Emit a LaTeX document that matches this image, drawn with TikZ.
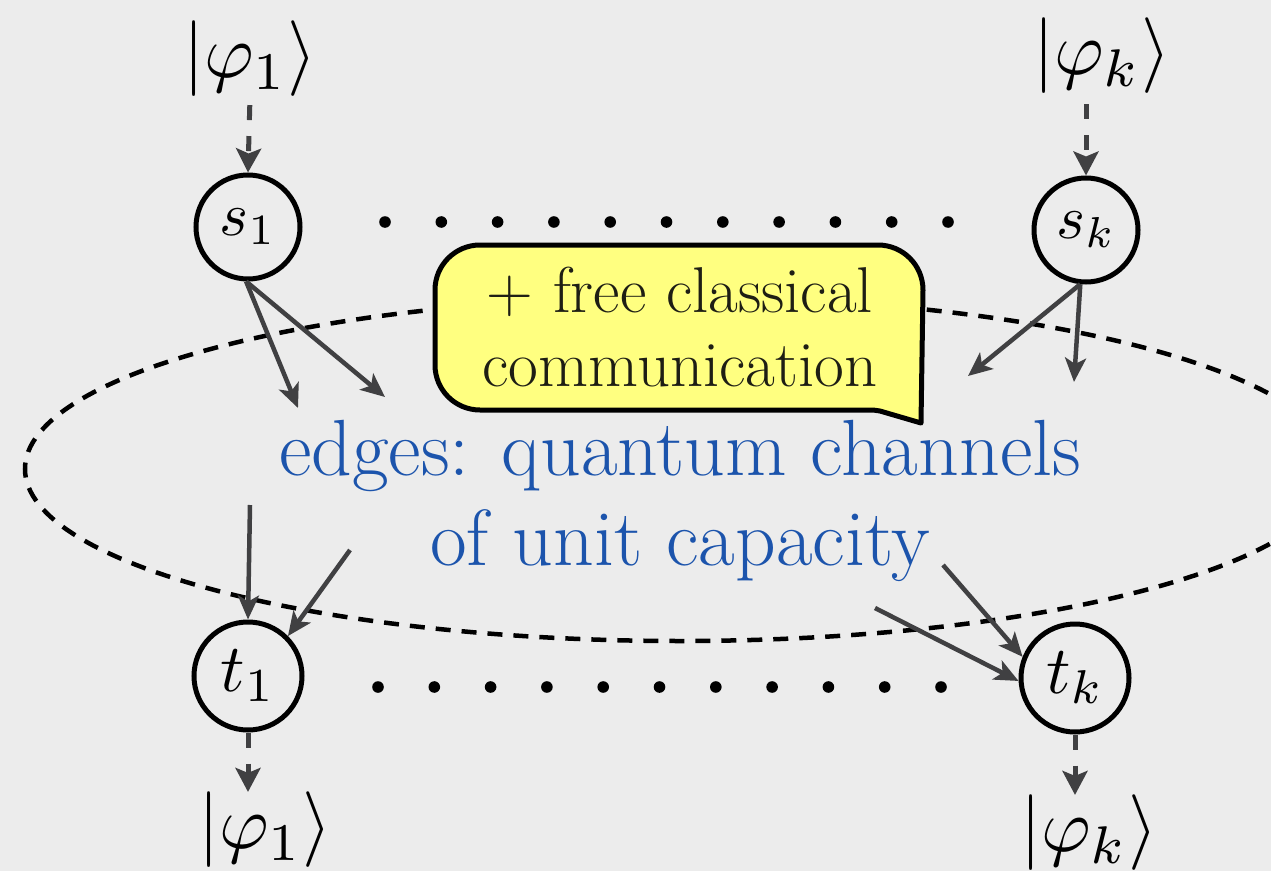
\documentclass[tikz,border=0pt]{standalone}
\usepackage{graphicx}
\usetikzlibrary{arrows.meta,calc}
\definecolor{bgcol}{RGB}{236,236,236}
\definecolor{arrcol}{RGB}{64,64,66}
\definecolor{bubcol}{RGB}{255,255,128}
\definecolor{bubtext}{RGB}{30,30,20}
\definecolor{txtblue}{RGB}{28,84,172}
\newcommand{\scaledmath}[2]{\scalebox{#1}{$#2$}}
\begin{document}
\begin{tikzpicture}[x=1bp,y=-1bp,
  snode/.style={circle,draw=black,line width=5bp,minimum size=104bp,inner sep=0pt},
  tnode/.style={circle,draw=black,line width=5bp,minimum size=108bp,inner sep=0pt},
  chan/.style={draw=arrcol,line width=4.5bp,-{Stealth[length=24bp,width=21bp,inset=6bp]}},
  ioarrow/.style={draw=arrcol,line width=5bp,dash pattern=on 15bp off 16bp,-{Stealth[length=24bp,width=25bp,inset=5bp]}},
  ketlabel/.style={inner sep=0pt},
  ellstyle/.style={draw=black,line width=4.5bp,dash pattern=on 15bp off 11bp},
  bubstyle/.style={draw=black,line width=5bp,fill=bubcol,line join=round},
  dotmark/.style={fill=black}]
\useasboundingbox (0,0) rectangle (1271,871);
\clip (0,0) rectangle (1271,871);
\fill[bgcol] (0,0) rectangle (1271,871);

% dashed ellipse
\draw[ellstyle] (680,469) ellipse [x radius=655, y radius=172];

% dots
\foreach \i in {0,...,10} {
  \fill[dotmark] (385+56.3*\i,222) circle [radius=5.8];
  \fill[dotmark] (378+56.3*\i,687) circle [radius=5.8];
}

% nodes
\node[snode] (s1) at (248,227) {\scaledmath{6.2}{s_1}};
\node[snode] (sk) at (1086,230) {\scaledmath{6.2}{s_k}};
\node[tnode] (t1) at (248,676) {\scaledmath{6.8}{t_1}};
\node[tnode] (tk) at (1075,678) {\scaledmath{6.8}{t_k}};

\node[ketlabel] (lab1) at (250,59) {\scaledmath{7.6}{|\varphi_1\rangle}};
\node[ketlabel] (labk) at (1102,56) {\scaledmath{7.6}{|\varphi_k\rangle}};
\node[ketlabel] (out1) at (265,830) {\scaledmath{7.6}{|\varphi_1\rangle}};
\node[ketlabel] (outk) at (1089,833) {\scaledmath{7.6}{|\varphi_k\rangle}};

% input / output dashed arrows
\draw[ioarrow,shorten <=8bp] (lab1.south) -- (s1.north);
\draw[ioarrow,shorten <=10bp] (sk.north |- labk.south) -- (sk.north);
\draw[ioarrow] (t1.south) -- (t1.south |- out1.north);
\draw[ioarrow] (tk.south) -- (tk.south |- outk.north);

% speech bubble
\draw[bubstyle] (873,410) -- (480,410)
  arc[start angle=90,end angle=180,radius=45] -- (435,290)
  arc[start angle=180,end angle=270,radius=45] -- (878,245)
  arc[start angle=270,end angle=360,radius=45] -- (921,423)
  -- (880,411) -- cycle;
\node[align=center,text=bubtext,font=\fontsize{65}{75}\selectfont,inner sep=0pt] (bubbletext) at (680,327) {+ free classical\\communication};

% blue label
\node[align=center,text=txtblue,font=\fontsize{80}{90}\selectfont,inner sep=0pt] (edgetext) at (680,501) {edges: quantum channels\\of unit capacity};

% channel arrows
\coordinate (a1) at (298,408);
\coordinate (a2) at (385,397);
\coordinate (b1) at (968,376);
\coordinate (b2) at (1074,382);
\coordinate (c1) at (250,505);
\coordinate (c2) at (350,550);
\coordinate (d1) at (943,565);
\coordinate (d2) at (875,608);
\draw[chan] (s1.-92) -- (a1);
\draw[chan] (s1.-92) -- (a2);
\draw[chan] (sk.-96) -- (b1);
\draw[chan] (sk.-96) -- (b2);
\draw[chan] (c1) -- (t1.north);
\draw[chan] (c2) -- (t1.45);
\draw[chan] (d1) -- (tk.158);
\draw[chan] (d2) -- (tk.183);
\end{tikzpicture}
\end{document}
